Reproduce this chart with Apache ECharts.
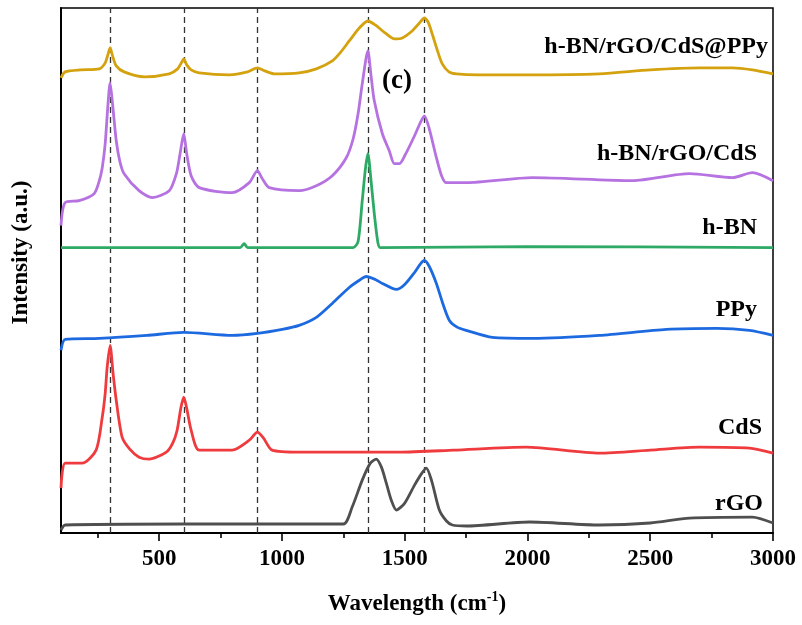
<!DOCTYPE html>
<html>
<head>
<meta charset="utf-8">
<script src="https://cdn.jsdelivr.net/npm/echarts@6/dist/echarts.min.js"></script>
<style>html,body{margin:0;padding:0;background:#fff}#c{width:802px;height:625px}</style>
</head>
<body>
<div id="c"></div>
<script>
// Wavenumber (cm-1) vs. offset intensity (a.u.)
const xTicks = [500, 1000, 1500, 2000, 2500, 3000];
const xMinorTicks = [250, 750, 1250, 1750, 2250, 2750];
const peakLines = [300, 600, 900, 1350, 1580];

const seriesNames = ['h-BN/rGO/CdS@PPy', 'h-BN/rGO/CdS', 'h-BN', 'PPy', 'CdS', 'rGO'];

const goldData = [[100,456],[117,462],[180,464],[256,465],[280,471],[292,480],[300,486],[310,478],[325,468],[357,462],[439,457],[541,460],[575,465],[590,471],[600,475],[612,469],[630,464],[663,461],[785,459],[860,462],[900,466],[930,463],[969,460],[1070,461],[1140,465],[1205,473],[1240,482],[1274,493],[1315,506],[1350,513],[1380,509],[1420,501],[1458,495],[1490,496],[1530,503],[1560,511],[1580,516],[1595,512],[1612,500],[1635,482],[1653,470],[1680,462],[1710,460],[1800,459],[2000,459],[2293,460],[2500,464],[2700,466],[2835,466],[2916,464],[3000,460]];

const purpleData = [[100,308],[117,331],[174,333],[235,340],[255,352],[268,366],[280,390],[290,425],[300,451],[310,430],[325,393],[340,372],[357,360],[418,343],[471,336],[541,343],[570,360],[585,380],[600,400],[612,380],[630,358],[663,346],[797,341],[867,351],[900,363],[920,355],[948,346],[1070,343],[1140,348],[1205,358],[1262,376],[1290,395],[1310,420],[1327,450],[1350,483],[1362,460],[1376,433],[1409,400],[1437,383],[1458,370],[1478,370],[1500,378],[1540,398],[1565,412],[1580,418],[1600,405],[1629,376],[1650,358],[1669,351],[1751,351],[2020,356],[2427,353],[2660,360],[2835,356],[2916,361],[3000,353]];

const greenData = [[100,286],[300,286],[600,286],[830,286],[846,290],[860,286],[1290,286],[1310,292],[1327,333],[1340,365],[1350,380],[1362,355],[1376,320],[1390,292],[1400,286],[2000,287],[3000,286]];

const blueData = [[100,183],[117,194],[256,195],[450,198],[600,201],[797,198],[900,200],[1001,204],[1070,208],[1140,216],[1205,230],[1274,246],[1320,254],[1343,257],[1380,254],[1409,250],[1466,244],[1500,249],[1540,261],[1565,270],[1580,273],[1600,267],[1629,250],[1655,230],[1682,213],[1715,206],[1751,203],[1857,196],[2020,195],[2293,198],[2566,204],[2770,205],[2904,203],[3000,198]];

const redData = [[100,45],[117,70],[186,70],[243,83],[268,116],[280,140],[288,166],[300,188],[312,160],[325,133],[349,96],[380,84],[418,76],[459,74],[529,81],[555,90],[573,103],[588,125],[600,136],[612,125],[630,103],[663,83],[797,83],[867,93],[900,101],[925,95],[960,83],[1070,81],[1478,81],[1700,83],[1995,86],[2293,80],[2500,83],[2700,86],[2904,85],[3000,80]];

const grayData = [[100,3],[117,8],[600,9],[1000,9],[1250,9],[1286,26],[1327,53],[1360,70],[1384,74],[1405,66],[1425,50],[1445,33],[1466,23],[1500,30],[1540,48],[1570,60],[1588,65],[1610,52],[1641,23],[1670,12],[1694,8],[1751,7],[2008,11],[2293,8],[2500,10],[2660,15],[2916,16],[3000,10]];

const allData = [goldData, purpleData, greenData, blueData, redData, grayData];
const colors = ['#D4A20E', '#B672E0', '#2EAA66', '#1D6AE0', '#EF3B3E', '#4F4F4F'];
// label anchor (right edge x, center y) in pixels
const labelPos = [[768,48],[757,155],[757,229],[757,311],[762,429],[763,505]];

const FONT = '"Liberation Serif", "Times New Roman", serif';

const chart = echarts.init(document.getElementById('c'), null, {renderer: 'canvas'});

const series = allData.map((d, i) => ({
  name: seriesNames[i],
  type: 'line',
  data: d,
  xAxisIndex: 0, yAxisIndex: 0,
  showSymbol: false,
  smooth: 0.25,
  lineStyle: {color: colors[i], width: 2.8},
  z: 3,
  markLine: i === 0 ? {
    silent: true,
    symbol: ['none', 'none'],
    label: {show: false},
    lineStyle: {color: '#333', type: [6, 4], width: 1.3},
    data: peakLines.map(v => ({xAxis: v})),
    z: 1
  } : undefined
}));

const gridRect = {left: 61, right: 29, top: 8, bottom: 92};

chart.setOption({
  animation: false,
  backgroundColor: '#fff',
  grid: [
    Object.assign({show: true, borderColor: '#000', borderWidth: 1.5}, gridRect),
    Object.assign({show: false}, gridRect)
  ],
  xAxis: [{
    gridIndex: 0,
    type: 'value', min: 100, max: 3000, position: 'bottom',
    axisLine: {show: true, lineStyle: {color: '#000', width: 2}},
    axisTick: {show: true, inside: false, length: 8, lineStyle: {color: '#000', width: 1.6}, customValues: xTicks},
    axisLabel: {show: true, customValues: xTicks, formatter: v => String(v), color: '#000', fontFamily: FONT, fontWeight: 'bold', fontSize: 23, margin: 15},
    splitLine: {show: false},
    name: '{a|Wavelength (cm}{s|-1}{a|)}',
    nameLocation: 'middle', nameGap: 57,
    nameTextStyle: {
      rich: {
        a: {fontFamily: FONT, fontWeight: 'bold', fontSize: 23, color: '#000', verticalAlign: 'bottom'},
        s: {fontFamily: FONT, fontWeight: 'bold', fontSize: 14, color: '#000', verticalAlign: 'top', padding: [0,0,12,0]}
      }
    }
  }, {
    gridIndex: 1,
    type: 'value', min: 100, max: 3000, position: 'bottom',
    axisLine: {show: false},
    axisTick: {show: true, inside: false, length: 5, lineStyle: {color: '#000', width: 1.6}, customValues: xMinorTicks},
    axisLabel: {show: false},
    splitLine: {show: false}
  }],
  yAxis: [{
    gridIndex: 0,
    type: 'value', min: 0, max: 526,
    axisLine: {show: true, lineStyle: {color: '#000', width: 2}},
    axisTick: {show: false}, axisLabel: {show: false}, splitLine: {show: false},
    name: 'Intensity (a.u.)', nameLocation: 'middle', nameGap: 28,
    nameTextStyle: {fontFamily: FONT, fontWeight: 'bold', fontSize: 23, color: '#000', padding: [0, 0, 0, 36]}
  }, {
    gridIndex: 1,
    type: 'value', min: 0, max: 526, show: false
  }],
  series: series,
  graphic: labelPos.map((p, i) => ({
    type: 'text', right: 802 - p[0], top: p[1] - 13, z: 10,
    style: {text: seriesNames[i], font: 'bold 24px ' + FONT, fill: '#000'}
  })).concat([{
    type: 'text', left: 382, top: 68, z: 10,
    style: {text: '(c)', font: 'bold 27px ' + FONT, fill: '#000'}
  }])
});
</script>
</body>
</html>
